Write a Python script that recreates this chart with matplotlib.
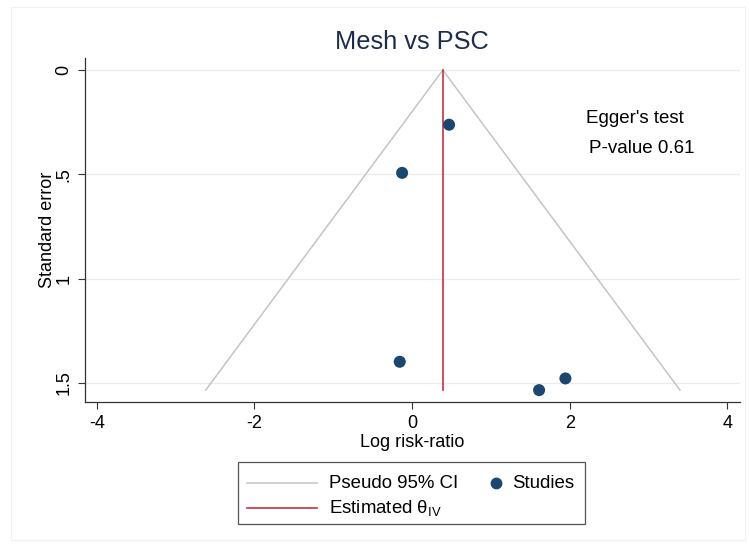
import numpy as np
import matplotlib.pyplot as plt
from matplotlib.lines import Line2D
from matplotlib.patches import Rectangle

plt.rcParams['font.family'] = ['Liberation Sans', 'DejaVu Sans']

# study estimates (log risk-ratio) and their standard errors
log_rr = [0.469, -0.127, -0.157, 1.611, 1.945]
std_err = [0.262, 0.493, 1.399, 1.535, 1.479]
theta_iv = 0.39
egger_p = 0.61

x_ticks = [-4, -2, 0, 2, 4]
y_ticks = [0, 0.5, 1, 1.5]
y_tick_labels = ['0', '.5', '1', '1.5']

navy = '#1a476f'
ci_gray = '#c4c4c4'
theta_red = '#c8323c'

W, H = 749, 545


def fx(px):
    return px / W


def fy(py):
    return 1 - py / H


fig = plt.figure(figsize=(W / 100, H / 100), dpi=100)
fig.patches.append(Rectangle((0.015, 0.01), 0.98, 0.978, transform=fig.transFigure,
                             fill=False, edgecolor='#f1f1f1', linewidth=0.8))
ax = fig.add_axes([fx(85), fy(402), fx(740) - fx(85), fy(58) - fy(402)])

# pseudo 95% confidence limits around the pooled estimate
se_max = max(std_err)
se_line = np.array([0, se_max])
ax.plot(theta_iv - 1.96 * se_line, se_line, color=ci_gray, lw=1.1, zorder=2)
ax.plot(theta_iv + 1.96 * se_line, se_line, color=ci_gray, lw=1.1, zorder=2)
ax.plot([theta_iv, theta_iv], [0, se_max], color=theta_red, lw=1.2, zorder=3)
ax.scatter(log_rr, std_err, s=75, color=navy, edgecolors='none', zorder=4)

ax.set_xlim(-4.15, 4.16)
ax.set_ylim(1.592, -0.058)
ax.set_xticks(x_ticks)
ax.set_xticklabels([str(t) for t in x_ticks])
ax.set_yticks(y_ticks)
ax.set_yticklabels(y_tick_labels, rotation=90, va='center')
ax.tick_params(axis='both', direction='out', length=5, width=0.8,
               color='#333333', labelsize=13, pad=4)
ax.grid(axis='y', color='#ececec', lw=0.9)
ax.set_axisbelow(True)
for side in ['top', 'right']:
    ax.spines[side].set_visible(False)
for side in ['left', 'bottom']:
    ax.spines[side].set_color('#333333')
    ax.spines[side].set_linewidth(0.9)

ax.set_xlabel('Log risk-ratio', fontsize=13, labelpad=2)
ax.set_ylabel('Standard error', fontsize=13, labelpad=0)
fig.text(fx(412), fy(42), 'Mesh vs PSC', fontsize=18.3, color='#1c2c4c',
         ha='center', va='center')

ax.text(2.2, 0.23, "Egger's test", fontsize=13.5, ha='left', va='center')
ax.text(2.24, 0.375, f'P-value {egger_p}', fontsize=13.5, ha='left', va='center')

# legend box drawn in figure coordinates
fig.patches.append(Rectangle((fx(238), fy(524)), fx(585) - fx(238), fy(462) - fy(524),
                             transform=fig.transFigure, fill=False,
                             edgecolor='#555555', linewidth=0.9))
fig.add_artist(Line2D([fx(247), fx(317)], [fy(483), fy(483)], color=ci_gray, lw=1.1))
fig.add_artist(Line2D([fx(247), fx(317)], [fy(508), fy(508)], color=theta_red, lw=1.2))
fig.add_artist(Line2D([fx(496)], [fy(483)], ls='none', marker='o', ms=8.5,
                      color=navy, mec='none'))
leg_font = dict(fontsize=13.4, ha='left', va='center')
fig.text(fx(329), fy(483), 'Pseudo 95% CI', **leg_font)
fig.text(fx(329), fy(508), r'Estimated $\mathregular{\theta_{IV}}$', **leg_font)
fig.text(fx(512), fy(483), 'Studies', **leg_font)

fig.savefig('out.png', dpi=100)
